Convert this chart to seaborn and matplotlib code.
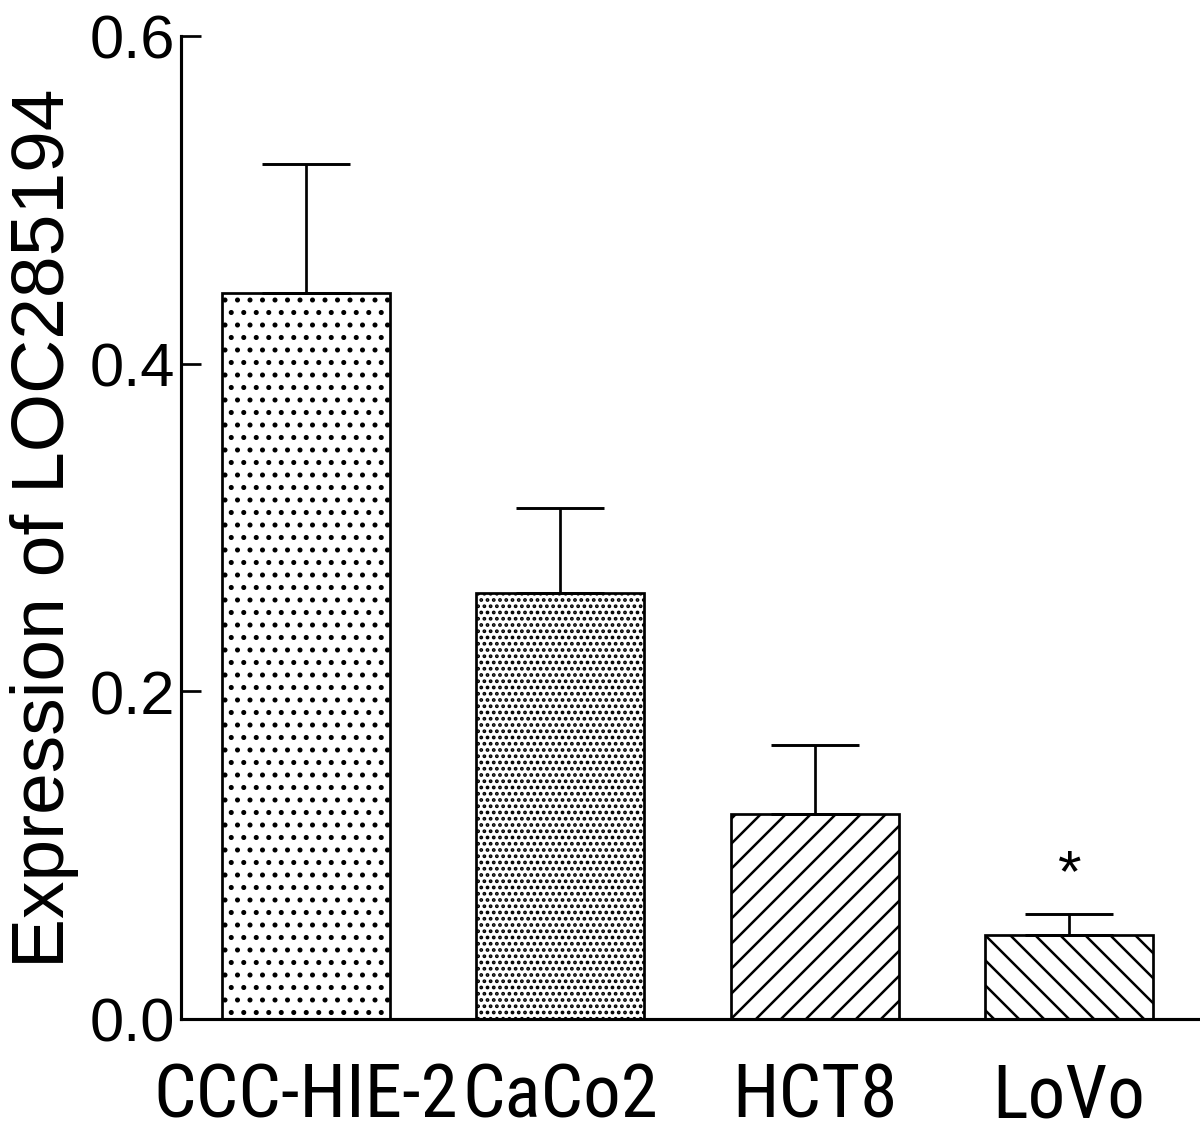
import matplotlib
matplotlib.use("Agg")
import matplotlib.pyplot as plt
import seaborn as sns
import pandas as pd

# Data
cell_lines = ['CCC-HIE-2', 'CaCo2', 'HCT8', 'LoVo']
expression = [0.443, 0.260, 0.125, 0.051]
error_up = [0.079, 0.052, 0.042, 0.013]
marks = ['', '', '', '*']
hatches = ['.', '..', '/', '\\']

df = pd.DataFrame({'cell': cell_lines, 'expr': expression})

sns.set_style('ticks')
plt.rcParams['font.family'] = ['Liberation Sans', 'DejaVu Sans']
plt.rcParams['text.color'] = 'black'
plt.rcParams['axes.labelcolor'] = 'black'
plt.rcParams['xtick.color'] = 'black'
plt.rcParams['ytick.color'] = 'black'
plt.rcParams['axes.edgecolor'] = 'black'
plt.rcParams['hatch.linewidth'] = 2.4
plt.rcParams['hatch.color'] = 'black'

fig = plt.figure(figsize=(16, 15.1733), dpi=75)
ax = fig.add_axes([0.1508, 0.1037, 0.8472, 0.8638])

sns.barplot(data=df, x='cell', y='expr', color='white', edgecolor='black',
            linewidth=2.6, width=0.66, ax=ax)
for patch, h in zip(ax.patches, hatches):
    patch.set_hatch(h)
    patch.set_facecolor('white')

x = list(range(len(cell_lines)))
ax.errorbar(x, expression, yerr=[[0] * len(x), error_up], fmt='none',
            ecolor='black', elinewidth=2.6, capsize=42, capthick=2.8)

for xi, m, e, eu in zip(x, marks, expression, error_up):
    if m:
        ax.text(xi, e + eu + 0.024, m, ha='center', va='center', fontsize=58)

ax.set_xlim(-0.49, 3.505)
ax.set_ylim(0, 0.6)
ax.set_yticks([0.0, 0.2, 0.4, 0.6])
ax.set_yticklabels(['0.0', '0.2', '0.4', '0.6'], fontsize=59)
ax.set_xlabel('')
ax.set_ylabel('Expression of LOC285194', fontsize=72, labelpad=10)
ax.tick_params(axis='y', direction='in', length=19, width=2.6, pad=6)
ax.tick_params(axis='x', length=0, pad=40)
for lab in ax.get_xticklabels():
    lab.set_family(['Roboto Condensed', 'DejaVu Sans'])
    lab.set_fontsize(72)

sns.despine(ax=ax)
ax.spines['left'].set_linewidth(3)
ax.spines['bottom'].set_linewidth(3)

fig.savefig('out.png', dpi=75)
